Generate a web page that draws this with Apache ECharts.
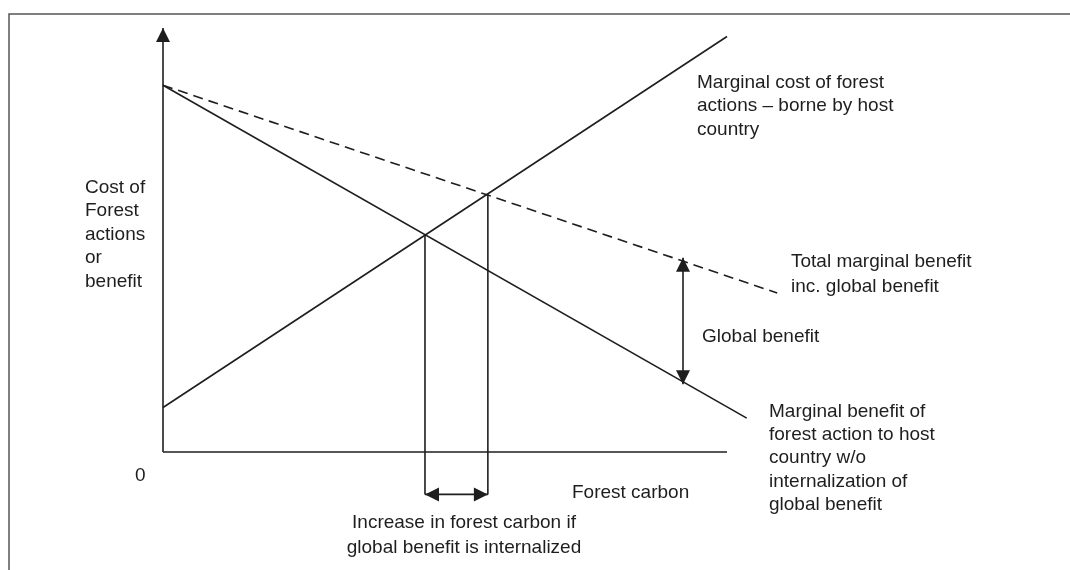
<!DOCTYPE html>
<html>
<head>
<meta charset="utf-8">
<script src="https://cdn.jsdelivr.net/npm/echarts@6/dist/echarts.min.js"></script>
<style>
  html, body { margin: 0; padding: 0; background: #fff; }
  #chart { width: 1070px; height: 570px; }
</style>
</head>
<body>
<div id="chart"></div>
<script>
// conceptual units: x = forest carbon, y = cost / benefit
const marginalCost = [[0, 1.05], [10, 9.8]];
const marginalBenefit = [[0, 8.65], [10.35, 0.8]];
const totalBenefit = [[0, 8.65], [10.89, 3.75]];
const eqHost = [[4.645, 5.14], [4.645, -1.0]];
const eqGlobal = [[5.76, 6.08], [5.76, -1.0]];
const carbonGain = [[4.645, -1.0], [5.76, -1.0]];
const globalGap = [[9.22, 4.58], [9.22, 1.6]];
const yAxisLine = [[0, 0], [0, 10]];
const xAxisLine = [[0, 0], [10, 0]];

const ink = '#1e1e1e';
const font = '19px "Liberation Sans", Arial, sans-serif';
const HEAD = 14;

const chart = echarts.init(document.getElementById('chart'), null, { renderer: 'canvas' });

function seg(data, dashed) {
  return {
    type: 'line',
    data: data,
    showSymbol: false,
    silent: true,
    animation: false,
    clip: false,
    lineStyle: { color: ink, width: 1.6, type: dashed ? [10, 6] : 'solid' }
  };
}

// arrow head whose tip sits on point `to`, pointing away from `from`
function head(from, to) {
  const a = Math.atan2(to[1] - from[1], to[0] - from[0]);
  return {
    value: to,
    symbolRotate: a * 180 / Math.PI - 90,
    symbolOffset: [-Math.cos(a) * HEAD / 2, Math.sin(a) * HEAD / 2]
  };
}

const heads = [
  head(yAxisLine[0], yAxisLine[1]),
  head(carbonGain[1], carbonGain[0]),
  head(carbonGain[0], carbonGain[1]),
  head(globalGap[1], globalGap[0]),
  head(globalGap[0], globalGap[1])
];

function label(text, x, y, lh, align) {
  return {
    type: 'text',
    x: x,
    y: y,
    silent: true,
    style: {
      text: text,
      font: font,
      fill: ink,
      lineHeight: lh,
      align: align || 'left',
      verticalAlign: 'top'
    }
  };
}

const option = {
  animation: false,
  grid: { left: 163, top: 28, width: 676.8, height: 508.8 },
  xAxis: { type: 'value', min: 0, max: 12, show: false },
  yAxis: { type: 'value', min: -2, max: 10, show: false },
  graphic: [
    {
      type: 'rect',
      shape: { x: 9, y: 14, width: 1080, height: 600 },
      style: { fill: 'none', stroke: '#555', lineWidth: 1.5 },
      silent: true
    },
    label('Cost of\nForest\nactions\nor\nbenefit', 85, 176, 23.5),
    label('0', 135, 464, 23),
    label('Marginal cost of forest\nactions \u2013 borne by host\ncountry', 697, 71, 23.5),
    label('Total marginal benefit\ninc. global benefit', 791, 250, 24.5),
    label('Global benefit', 702, 325, 23),
    label('Marginal benefit of\nforest action to host\ncountry w/o\ninternalization of\nglobal benefit', 769, 400, 23.3),
    label('Forest carbon', 572, 481, 23),
    label('Increase in forest carbon if\nglobal benefit is internalized', 464, 510, 25, 'center')
  ],
  series: [
    seg(xAxisLine),
    seg(yAxisLine),
    seg(marginalCost),
    seg(marginalBenefit),
    seg(totalBenefit, true),
    seg(eqHost),
    seg(eqGlobal),
    seg(carbonGain),
    seg(globalGap),
    {
      type: 'scatter',
      silent: true,
      animation: false,
      clip: false,
      symbol: 'triangle',
      symbolSize: HEAD,
      itemStyle: { color: ink, opacity: 1 },
      data: heads
    }
  ]
};

chart.setOption(option);
</script>
</body>
</html>
